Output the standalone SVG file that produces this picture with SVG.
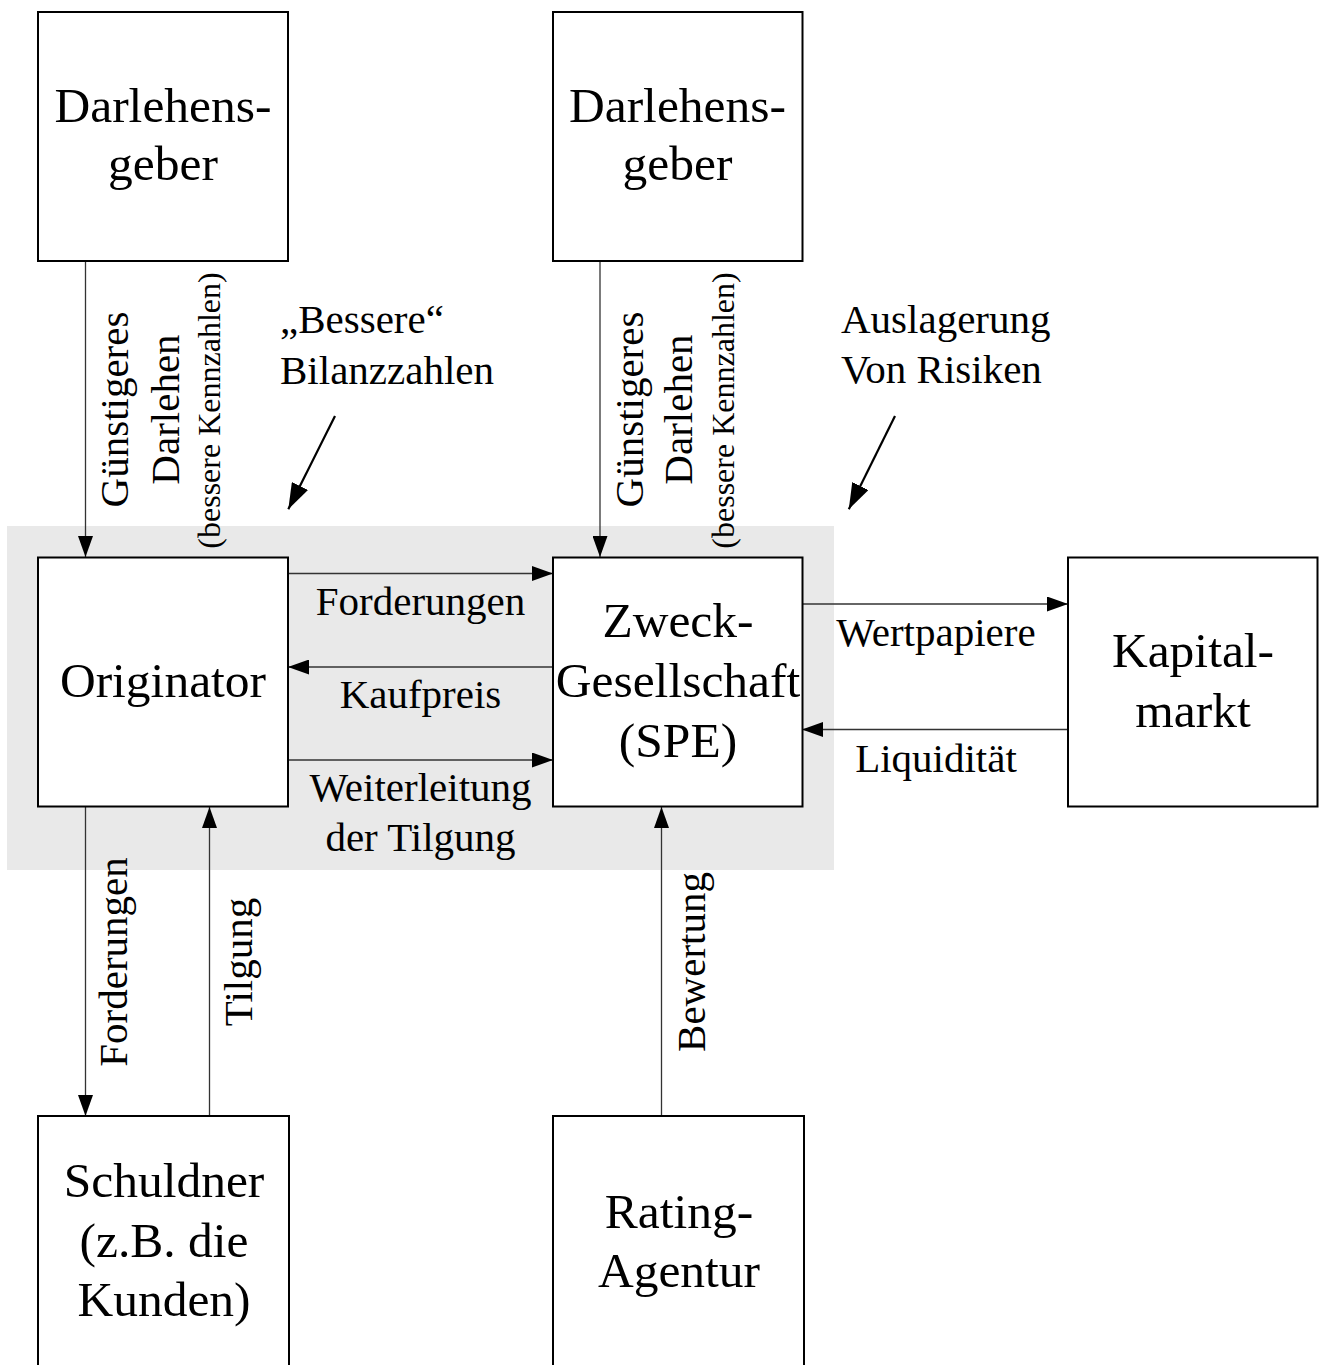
<svg xmlns="http://www.w3.org/2000/svg" width="1324" height="1365" viewBox="0 0 1324 1365">
<style>
.box{fill:#fff;stroke:#000;stroke-width:2}
.big{font-family:"Liberation Serif","Times New Roman",serif;font-size:49.5px;fill:#000;text-anchor:middle}
.lbl{font-family:"Liberation Serif","Times New Roman",serif;font-size:41px;fill:#000}
.mid{text-anchor:middle}
.sml{font-family:"Liberation Serif","Times New Roman",serif;font-size:32px;fill:#000;text-anchor:middle}
.con{stroke:#333;stroke-width:1.3;fill:none;marker-end:url(#ah)}
.diag{stroke:#000;stroke-width:2.2;fill:none;marker-end:url(#ahb)}
</style>
<defs>
<marker id="ah" markerUnits="userSpaceOnUse" markerWidth="21" markerHeight="15" refX="21" refY="7.5" orient="auto">
<path d="M0,0 L21,7.5 L0,15 z" fill="#000"/>
</marker>
<marker id="ahb" markerUnits="userSpaceOnUse" markerWidth="26" markerHeight="18" refX="26" refY="9" orient="auto">
<path d="M0,0 L26,9 L0,18 z" fill="#000"/>
</marker>
</defs>
<rect x="0" y="0" width="1324" height="1365" fill="#fff"/>
<rect id="bg-region" x="7" y="526" width="827" height="344" fill="#e9e9e9"/>

<g id="connectors">
<line class="con" x1="85.5" y1="261" x2="85.5" y2="557"/>
<line class="con" x1="600" y1="261" x2="600" y2="557"/>
<line class="con" x1="288" y1="573.5" x2="553" y2="573.5"/>
<line class="con" x1="553" y1="667" x2="288" y2="667"/>
<line class="con" x1="288" y1="760" x2="553" y2="760"/>
<line class="con" x1="802" y1="604" x2="1068" y2="604"/>
<line class="con" x1="1068" y1="729.5" x2="802" y2="729.5"/>
<line class="con" x1="85.5" y1="807" x2="85.5" y2="1116"/>
<line class="con" x1="209.5" y1="1116" x2="209.5" y2="807"/>
<line class="con" x1="661.5" y1="1116" x2="661.5" y2="807"/>
<line class="diag" x1="335" y1="416" x2="288.3" y2="509.3"/>
<line class="diag" x1="895" y1="416" x2="848.8" y2="509.3"/>
</g>

<g id="labels">
<g transform="translate(128,409.5) rotate(-90)"><text class="lbl mid" x="0" y="0">Günstigeres</text></g>
<g transform="translate(178.5,409.5) rotate(-90)"><text class="lbl mid" x="0" y="0">Darlehen</text></g>
<g transform="translate(219.5,410.5) rotate(-90)"><text class="sml" x="0" y="0">(bessere Kennzahlen)</text></g>
<g transform="translate(643,409.5) rotate(-90)"><text class="lbl mid" x="0" y="0">Günstigeres</text></g>
<g transform="translate(692,409.5) rotate(-90)"><text class="lbl mid" x="0" y="0">Darlehen</text></g>
<g transform="translate(734,410.5) rotate(-90)"><text class="sml" x="0" y="0">(bessere Kennzahlen)</text></g>
<text class="lbl" x="280" y="333">„Bessere“</text>
<text class="lbl" x="280" y="384">Bilanzzahlen</text>
<text class="lbl" x="841" y="333">Auslagerung</text>
<text class="lbl" x="841" y="383">Von Risiken</text>
<text class="lbl mid" x="420.5" y="615">Forderungen</text>
<text class="lbl mid" x="420.5" y="708">Kaufpreis</text>
<text class="lbl mid" x="420.5" y="801">Weiterleitung</text>
<text class="lbl mid" x="420.5" y="851">der Tilgung</text>
<text class="lbl mid" x="936" y="646">Wertpapiere</text>
<text class="lbl mid" x="936" y="772">Liquidität</text>
<g transform="translate(127,962) rotate(-90)"><text class="lbl mid" x="0" y="0">Forderungen</text></g>
<g transform="translate(252,962) rotate(-90)"><text class="lbl mid" x="0" y="0">Tilgung</text></g>
<g transform="translate(704.5,962) rotate(-90)"><text class="lbl mid" x="0" y="0">Bewertung</text></g>
</g>

<g id="darlehensgeber1">
<rect class="box" x="38" y="12" width="250" height="249"/>
<text class="big" x="163" y="121.7">Darlehens-</text>
<text class="big" x="163" y="180">geber</text>
</g>
<g id="darlehensgeber2">
<rect class="box" x="553" y="12" width="249.5" height="249"/>
<text class="big" x="677.5" y="121.7">Darlehens-</text>
<text class="big" x="677.5" y="180">geber</text>
</g>
<g id="originator">
<rect class="box" x="38" y="557.5" width="250" height="249"/>
<text class="big" x="163" y="697">Originator</text>
</g>
<g id="zweckgesellschaft">
<rect class="box" x="553" y="557.5" width="249.5" height="249"/>
<text class="big" x="678" y="637">Zweck-</text>
<text class="big" x="678" y="697">Gesellschaft</text>
<text class="big" x="678" y="757">(SPE)</text>
</g>
<g id="kapitalmarkt">
<rect class="box" x="1068" y="557.5" width="249.5" height="249"/>
<text class="big" x="1193" y="667">Kapital-</text>
<text class="big" x="1193" y="727">markt</text>
</g>
<g id="schuldner">
<rect class="box" x="38" y="1116" width="251" height="251"/>
<text class="big" x="164" y="1197">Schuldner</text>
<text class="big" x="164" y="1257">(z.B. die</text>
<text class="big" x="164" y="1316">Kunden)</text>
</g>
<g id="ratingagentur">
<rect class="box" x="553" y="1116" width="251" height="251"/>
<text class="big" x="679" y="1228">Rating-</text>
<text class="big" x="679" y="1287">Agentur</text>
</g>
</svg>
